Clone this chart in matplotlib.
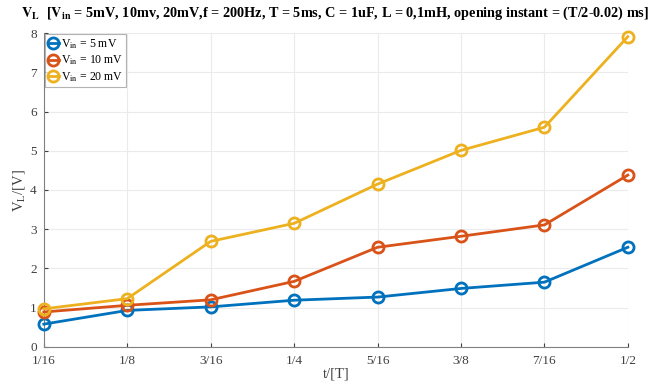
import matplotlib
matplotlib.use("Agg")
import matplotlib.pyplot as plt
import numpy as np

plt.rcParams['font.family'] = ['Liberation Serif', 'DejaVu Serif']
plt.rcParams['mathtext.fontset'] = 'stix'

# data
t_labels = ['1/16', '1/8', '3/16', '1/4', '5/16', '3/8', '7/16', '1/2']
v_5mv = [0.58, 0.93, 1.02, 1.19, 1.27, 1.49, 1.65, 2.54]
v_10mv = [0.89, 1.06, 1.20, 1.67, 2.54, 2.82, 3.11, 4.38]
v_20mv = [0.97, 1.23, 2.69, 3.15, 4.15, 5.01, 5.60, 7.91]
series_labels = [r'V$_{\mathrm{in}}$ = 5 mV', r'V$_{\mathrm{in}}$ = 10 mV', r'V$_{\mathrm{in}}$ = 20 mV']
colors = ['#0072BD', '#D95319', '#EDB120']

x = np.arange(len(t_labels))

fig = plt.figure(figsize=(6.54, 3.85), dpi=100)
ax = fig.add_axes([0.067, 0.099, 0.893, 0.815])

for vals, lab, c in zip([v_5mv, v_10mv, v_20mv], series_labels, colors):
    ax.plot(x, vals, '-o', color=c, lw=2, ms=8, mew=2, mfc='none',
            label=lab, clip_on=False, zorder=3)

ax.set_xlim(0, len(t_labels) - 1)
ax.set_ylim(0, 8)
ax.set_xticks(x)
ax.set_xticklabels(t_labels)
ax.set_yticks(range(0, 9))
ax.tick_params(direction='in', labelsize=9.5, colors='#404040', length=3)
ax.tick_params(axis='x', pad=6)
ax.tick_params(axis='y', pad=5)
ax.grid(True, color='#ebebeb', lw=0.8)
ax.set_axisbelow(True)
for s in ['top', 'right']:
    ax.spines[s].set_visible(False)
for s in ['left', 'bottom']:
    ax.spines[s].set_color('#808080')

ax.set_xlabel('t/[T]', fontsize=10.5, color='#404040', labelpad=0)
ax.set_ylabel(r'V$_\mathrm{L}$/[V]', fontsize=10.5, color='#404040', labelpad=2)

fig.text(0.513, 0.965,
         r'$\mathbf{V_L}$  [$\mathbf{V_{in}}$ = 5mV, 10mv, 20mV,f = 200Hz, T = 5ms, C = 1uF, '
         r'L = 0,1mH, opening instant = (T/2-0.02) ms]',
         ha='center', va='center', fontsize=10.3, fontweight='bold')

leg = ax.legend(loc='upper left', fontsize=8.5, frameon=True, fancybox=False,
                borderaxespad=0.1, handlelength=0.9, handletextpad=0.2,
                labelspacing=0.25, borderpad=0.25)
leg.get_frame().set_edgecolor('#a0a0a0')
leg.get_frame().set_linewidth(0.8)

fig.savefig('out.png', dpi=100)
